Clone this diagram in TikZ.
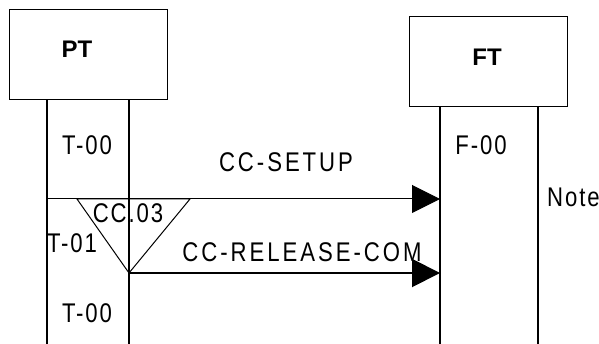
\documentclass[tikz,border=0pt]{standalone}
\usepackage{fontspec}
\setmainfont{Liberation Sans}
\newfontfamily\narrowfont[FakeStretch=0.82]{Liberation Sans}
\usetikzlibrary{arrows.meta}

\begin{document}
\begin{tikzpicture}[x=1pt,y=-1pt,
	box/.style = {draw, line width=1pt, minimum width=158pt, minimum height=90pt, inner sep=0pt},
	ent/.style = {font=\fontsize{24}{28}\selectfont\bfseries, inner sep=0pt, anchor=base},
	life/.style = {line width=2pt},
	lbl/.style = {font=\narrowfont\fontsize{27}{30}\selectfont\addfontfeatures{LetterSpace=7}, inner sep=0pt, anchor=base},
	msg/.style = {lbl, font=\narrowfont\fontsize{27}{30}\selectfont\addfontfeatures{LetterSpace=11}},
	sig/.style = {-{Triangle[length=28pt,width=28pt]}}]
	\useasboundingbox (0,0) rectangle (599,344);
	\node[box] (pt) at (88,55) {};
	\node[ent] (ptname) at (77,58) {PT};
	\node[box] (ft) at (488.5,62) {};
	\node[ent] (ftname) at (487,66) {FT};
	\coordinate (ptA) at (47,344);
	\coordinate (ptB) at (129,344);
	\coordinate (ftA) at (440,344);
	\coordinate (ftB) at (538,344);
	\draw[life] (pt.south -| ptA) -- (ptA);
	\draw[life] (pt.south -| ptB) -- (ptB);
	\draw[life] (ft.south -| ftA) -- (ftA);
	\draw[life] (ft.south -| ftB) -- (ftB);
	% states
	\node[lbl] (t00a) at (87,155) {T-00};
	\node[lbl] (t01) at (72,253) {T-01};
	\node[lbl] (t00b) at (87,322) {T-00};
	\node[lbl] (f00) at (481,155) {F-00};
	\node[lbl, anchor=base west] (note) at (547,207) {Note};
	% timer
	\coordinate (tmr1) at (77,199);
	\coordinate (tmr2) at (190,199);
	\coordinate (tmr3) at (129,273);
	\draw[line width=1pt] (tmr1) -- (tmr2) -- (tmr3) -- cycle;
	\node[lbl] (tmr) at (128,223) {CC.03};
	% messages
	\coordinate (setup0) at (47,199);
	\draw[sig, line width=1pt] (setup0) -- (setup0 -| ftA);
	\node[msg] (setup) at (286,172) {CC-SETUP};
	\draw[sig, line width=2pt] (tmr3) -- (tmr3 -| ftA);
	\node[msg] (release) at (302,262) {CC-RELEASE-COM};
\end{tikzpicture}
\end{document}
